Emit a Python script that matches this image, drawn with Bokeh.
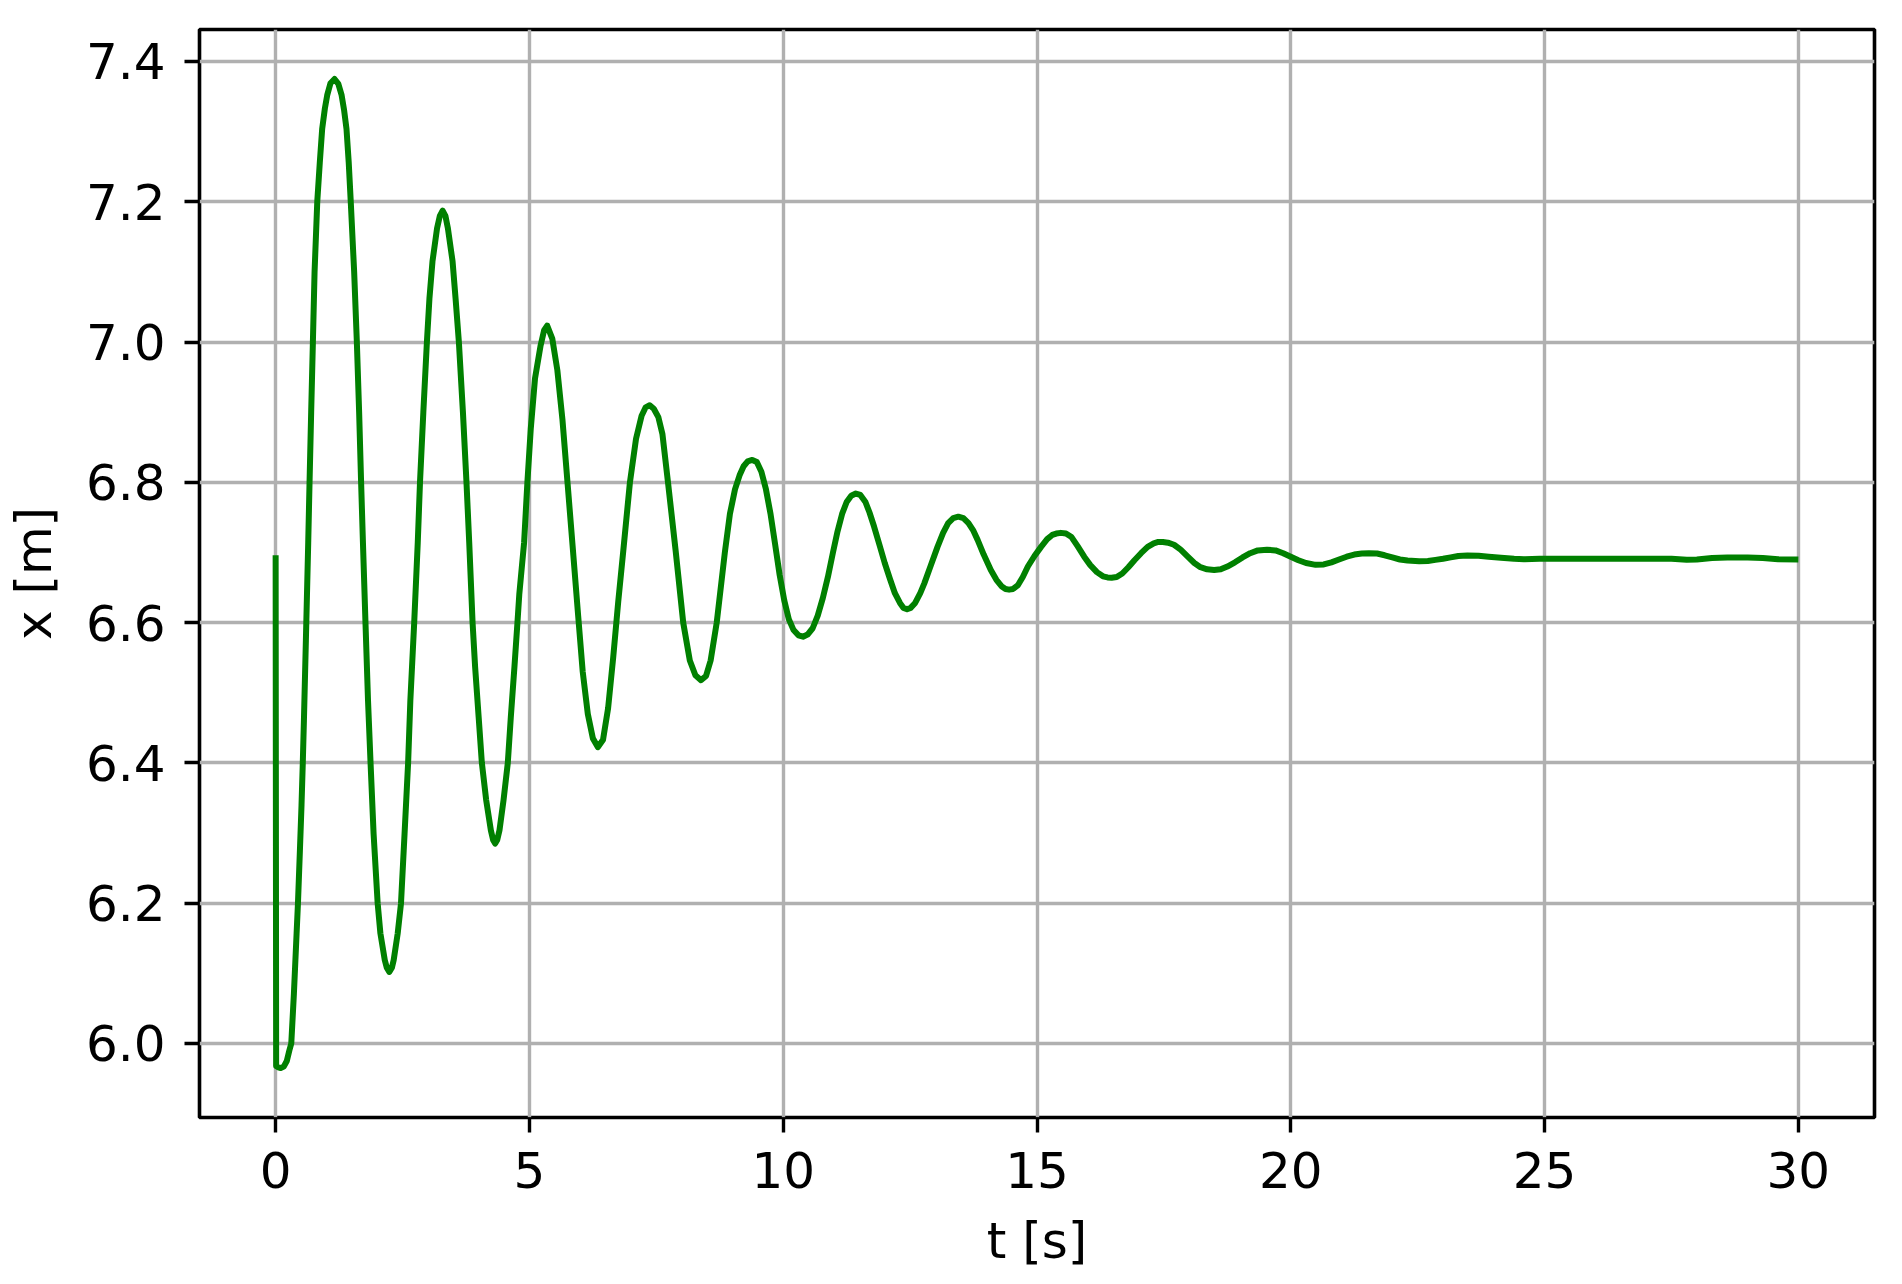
from bokeh.plotting import figure
from bokeh.models import Range1d, FixedTicker, PrintfTickFormatter
from bokeh.embed import file_html
from bokeh.resources import INLINE

# ---- data (time in s, position in m) ----
t_s = [0.0, 0.01, 0.05, 0.10, 0.16, 0.22, 0.27, 0.308, 0.36, 0.413, 0.44, 0.478, 0.51, 0.535, 0.557, 0.596,
       0.642, 0.668, 0.70, 0.734, 0.767, 0.82, 0.87, 0.917, 0.97, 1.016, 1.08, 1.16,
       1.235, 1.30, 1.35, 1.396, 1.44, 1.48, 1.547, 1.60, 1.645, 1.684, 1.72, 1.77, 1.82, 1.87, 1.93,
       2.01, 2.064, 2.15, 2.19, 2.24,
       2.29, 2.326, 2.405, 2.47, 2.54, 2.61, 2.654, 2.73, 2.80, 2.844, 2.91, 2.98, 3.03, 3.09, 3.18,
       3.235, 3.29,
       3.345, 3.394, 3.486, 3.545, 3.61, 3.69, 3.76, 3.814, 3.88, 3.93, 4.0, 4.063, 4.148, 4.24,
       4.285, 4.325,
       4.365, 4.41, 4.49, 4.574, 4.633, 4.705, 4.764, 4.80, 4.895, 4.96, 5.026, 5.11, 5.22, 5.29, 5.35,
       5.45, 5.55, 5.65, 5.75, 5.85, 5.96, 6.05, 6.15, 6.25, 6.35,
       6.45, 6.55, 6.65, 6.75, 6.85, 6.98, 7.10, 7.21, 7.29, 7.37,
       7.45, 7.54, 7.62, 7.73, 7.88, 8.03, 8.16, 8.27, 8.38,
       8.48, 8.57, 8.69, 8.85, 8.95, 9.05, 9.14, 9.22, 9.30, 9.39,
       9.48, 9.57, 9.66, 9.75, 9.84, 9.93, 10.02, 10.11, 10.20, 10.30, 10.39,
       10.48, 10.58, 10.68, 10.78, 10.88, 10.98, 11.07, 11.16, 11.25, 11.34, 11.43,
       11.52, 11.62, 11.70, 11.79, 11.90, 12.00, 12.10, 12.20, 12.30, 12.37, 12.44,
       12.51, 12.60, 12.70, 12.78, 12.90, 13.04, 13.15, 13.25, 13.35, 13.45,
       13.55, 13.65, 13.74, 13.83, 13.95, 14.09, 14.20, 14.30, 14.38, 14.45,
       14.53, 14.62, 14.72, 14.82, 14.95, 15.08, 15.20, 15.30, 15.38, 15.47,
       15.57, 15.68, 15.80, 15.93, 16.05, 16.18, 16.30, 16.39, 16.47,
       16.57, 16.68, 16.80, 16.92, 17.05, 17.18, 17.30, 17.39, 17.48,
       17.58, 17.70, 17.83, 17.97, 18.10, 18.22, 18.35, 18.49,
       18.62, 18.75, 18.90, 19.05, 19.20, 19.35, 19.53,
       19.70, 19.85, 20.00, 20.15, 20.30, 20.49,
       20.65, 20.80, 20.95, 21.10, 21.25, 21.40, 21.54,
       21.70, 21.85, 22.00, 22.15, 22.30, 22.53,
       22.70, 22.85, 23.00, 23.15, 23.30, 23.48,
       23.70, 23.90, 24.14, 24.40, 24.60, 24.90, 25.50, 26.50, 27.50, 27.80, 28.00, 28.30, 28.60,
       29.00, 29.30, 29.60, 30.00]
x_m = [6.696, 5.968, 5.966, 5.965, 5.967, 5.975, 5.99, 6.0, 6.071, 6.157, 6.2, 6.275, 6.34, 6.4, 6.46, 6.575,
       6.714, 6.8, 6.90, 7.0, 7.10, 7.2, 7.256, 7.304, 7.333, 7.352, 7.369, 7.375,
       7.368, 7.352, 7.33, 7.304, 7.256, 7.2, 7.10, 7.0, 6.90, 6.8, 6.714, 6.6, 6.489, 6.4, 6.299,
       6.2, 6.157, 6.119, 6.108, 6.102,
       6.108, 6.119, 6.157, 6.2, 6.299, 6.4, 6.489, 6.6, 6.714, 6.8, 6.90, 7.0, 7.062, 7.115, 7.162,
       7.18, 7.1875,
       7.18, 7.162, 7.115, 7.062, 7.0, 6.90, 6.8, 6.714, 6.6, 6.537, 6.465, 6.4, 6.347, 6.304,
       6.29, 6.285,
       6.29, 6.304, 6.347, 6.4, 6.465, 6.537, 6.6, 6.64, 6.714, 6.8, 6.876, 6.948, 6.995, 7.017, 7.0235,
       7.005, 6.96, 6.89, 6.80, 6.71, 6.61, 6.53, 6.47, 6.435, 6.4225,
       6.433, 6.478, 6.55, 6.63, 6.703, 6.8, 6.862, 6.895, 6.907, 6.91,
       6.905, 6.893, 6.869, 6.8, 6.703, 6.6, 6.546, 6.525, 6.518,
       6.524, 6.546, 6.6, 6.70, 6.755, 6.79, 6.81, 6.823, 6.830, 6.832,
       6.829, 6.815, 6.790, 6.755, 6.712, 6.668, 6.632, 6.605, 6.590, 6.582, 6.58,
       6.583, 6.592, 6.61, 6.635, 6.665, 6.70, 6.73, 6.755, 6.772, 6.781, 6.784,
       6.782, 6.772, 6.757, 6.737, 6.71, 6.685, 6.663, 6.642, 6.628, 6.621, 6.619,
       6.621, 6.628, 6.642, 6.656, 6.68, 6.708, 6.728, 6.742, 6.749, 6.751,
       6.749, 6.742, 6.732, 6.718, 6.697, 6.675, 6.661, 6.652, 6.648, 6.647,
       6.648, 6.653, 6.665, 6.68, 6.695, 6.708, 6.719, 6.725, 6.727, 6.728,
       6.727, 6.722, 6.709, 6.694, 6.682, 6.672, 6.666, 6.6645, 6.664,
       6.665, 6.670, 6.679, 6.689, 6.699, 6.708, 6.713, 6.715, 6.715,
       6.714, 6.711, 6.704, 6.694, 6.685, 6.679, 6.676, 6.675,
       6.676, 6.680, 6.686, 6.693, 6.699, 6.703, 6.704,
       6.703, 6.699, 6.694, 6.689, 6.685, 6.6824,
       6.683, 6.686, 6.690, 6.694, 6.697, 6.6985, 6.699,
       6.6985, 6.696, 6.693, 6.690, 6.6885, 6.6876,
       6.688, 6.6895, 6.691, 6.693, 6.695, 6.6957,
       6.6955, 6.694, 6.6925, 6.691, 6.6905, 6.691, 6.691, 6.691, 6.691, 6.6895, 6.690, 6.692, 6.693,
       6.693, 6.692, 6.6905, 6.690]

x_ticks = [0, 5, 10, 15, 20, 25, 30]
y_ticks = [6.0, 6.2, 6.4, 6.6, 6.8, 7.0, 7.2, 7.4]
x_label = "t [s]"
y_label = "x [m]"

FONT = "DejaVu Sans"

p = figure(width=1902, height=1284, output_backend="svg", toolbar_location=None,
           x_range=Range1d(-1.5, 31.5), y_range=Range1d(5.8945, 7.4456))
p.min_border_left = 199
p.min_border_right = 28
p.min_border_top = 29
p.min_border_bottom = 167
p.background_fill_color = "white"
p.border_fill_color = "white"
p.outline_line_color = "black"
p.outline_line_width = 3.6
p.outline_line_alpha = 1.0

p.line(t_s, x_m, line_color="#008000", line_width=6.0, line_join="round")

for ax in (p.xaxis[0], p.yaxis[0]):
    ax.axis_line_color = None
    ax.major_tick_line_color = "black"
    ax.major_tick_line_width = 3.4
    ax.major_tick_out = 15
    ax.major_tick_in = 0
    ax.minor_tick_line_color = None
    ax.major_label_text_font = FONT
    ax.major_label_text_font_size = "50px"
    ax.major_label_text_color = "black"
    ax.axis_label_text_font = FONT
    ax.axis_label_text_font_size = "50px"
    ax.axis_label_text_font_style = "normal"
    ax.axis_label_text_color = "black"

p.xaxis[0].ticker = FixedTicker(ticks=x_ticks)
p.yaxis[0].ticker = FixedTicker(ticks=y_ticks)
p.xaxis[0].formatter = PrintfTickFormatter(format="%d")
p.yaxis[0].formatter = PrintfTickFormatter(format="%.1f")
p.xaxis[0].axis_label = x_label
p.yaxis[0].axis_label = y_label
p.xaxis[0].major_label_standoff = 19
p.yaxis[0].major_label_standoff = 19
p.xaxis[0].axis_label_standoff = 21
p.yaxis[0].axis_label_standoff = 20

for g in (p.xgrid[0], p.ygrid[0]):
    g.grid_line_color = "#b0b0b0"
    g.grid_line_width = 3.4

open("out.html", "w").write(file_html(p, INLINE))
